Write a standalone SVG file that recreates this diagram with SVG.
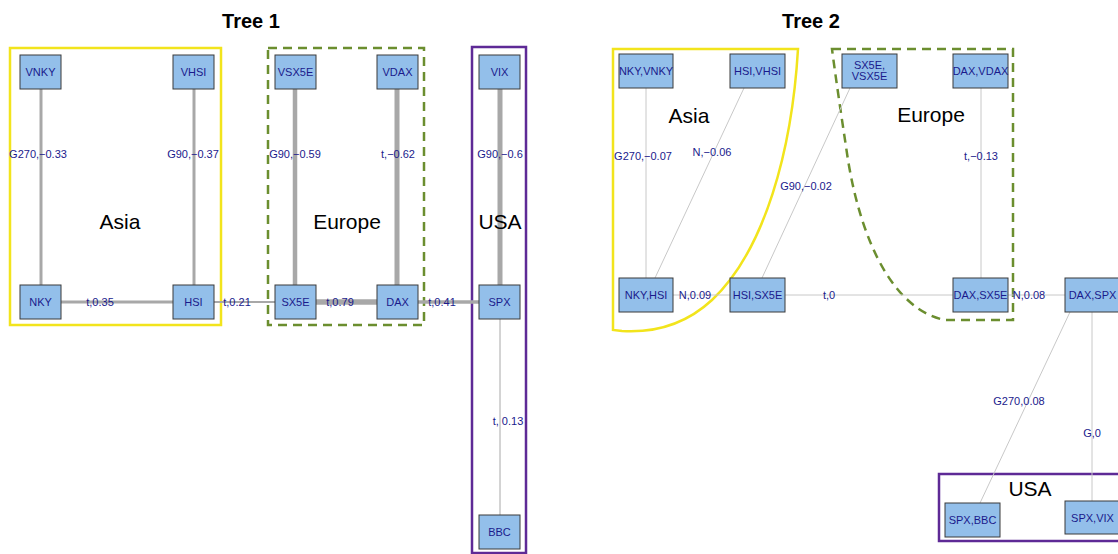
<svg xmlns="http://www.w3.org/2000/svg" width="1118" height="554" viewBox="0 0 1118 554">
<style>
.node rect{fill:#93bfea;stroke:#3a3a3a;stroke-width:1}
.node text{font-family:"Liberation Sans",Arial,sans-serif;font-size:11px;fill:#1a1a8c;text-anchor:middle}
.el{font-family:"Liberation Sans",Arial,sans-serif;font-size:11px;fill:#1a1a8c;text-anchor:middle}
.grp{font-family:"Liberation Sans",Arial,sans-serif;font-size:21px;fill:#000;text-anchor:middle}
.title{font-family:"Liberation Sans",Arial,sans-serif;font-size:20px;font-weight:bold;fill:#000;text-anchor:middle}
.e1{stroke:#a8a8a8;fill:none}
.e2{stroke:#c8c8c8;stroke-width:1;fill:none}
.asia{fill:none;stroke:#f2e41c;stroke-width:2.5}
.europe{fill:none;stroke:#6b8e2f;stroke-width:2.5;stroke-dasharray:9,6}
.usa{fill:none;stroke:#5e2a96;stroke-width:2.5}
</style>
<rect width="1118" height="554" fill="#fff"/>
<text class="title" x="251" y="28">Tree 1</text>
<text class="title" x="811" y="28">Tree 2</text>

<g id="clusters">
<rect class="asia" x="10" y="48" width="211" height="277"/>
<rect class="europe" x="268" y="48" width="156" height="277"/>
<rect class="usa" x="472" y="47" width="54" height="506"/>
<path class="asia" d="M613,49 H798 C792,150 765,250 712,300 C685,325 655,333 622,331 L613,330 Z"/>
<path class="europe" d="M832,49 H1013 V320 H945 C895,310 862,245 848,160 C842,120 836,80 832,49 Z"/>
<rect class="usa" x="939" y="474" width="190" height="67"/>
</g>

<g id="connectors">
<line class="e1" x1="41" y1="89" x2="41" y2="285" stroke-width="3"/>
<line class="e1" x1="194" y1="89" x2="194" y2="285" stroke-width="3"/>
<line class="e1" x1="61" y1="302" x2="173" y2="302" stroke-width="3"/>
<line class="e1" x1="214" y1="302" x2="275" y2="302" stroke-width="2"/>
<line class="e1" x1="295" y1="89" x2="295" y2="285" stroke-width="4.5"/>
<line class="e1" x1="397" y1="89" x2="397" y2="285" stroke-width="5"/>
<line class="e1" x1="316" y1="302" x2="377" y2="302" stroke-width="5.5"/>
<line class="e1" x1="418" y1="302" x2="479" y2="302" stroke-width="3.5"/>
<line class="e1" x1="500" y1="89" x2="500" y2="285" stroke-width="5"/>
<line class="e1" x1="500" y1="319" x2="500" y2="515" stroke-width="1"/>

<line class="e2" x1="646" y1="88" x2="646" y2="278"/>
<line class="e2" x1="744" y1="88" x2="655" y2="278"/>
<line class="e2" x1="673" y1="295" x2="730" y2="295"/>
<line class="e2" x1="762" y1="278" x2="850" y2="88"/>
<line class="e2" x1="785" y1="295" x2="953" y2="295"/>
<line class="e2" x1="981" y1="88" x2="981" y2="278"/>
<line class="e2" x1="1008" y1="295" x2="1065" y2="295"/>
<line class="e2" x1="1070" y1="312" x2="980" y2="503"/>
<line class="e2" x1="1092" y1="312" x2="1092" y2="501"/>
</g>

<g id="edge-labels">
<text class="el" x="38" y="158">G270,−0.33</text>
<text class="el" x="193" y="158">G90,−0.37</text>
<text class="el" x="100" y="306">t,0.35</text>
<text class="el" x="237" y="306">t,0.21</text>
<text class="el" x="295" y="158">G90,−0.59</text>
<text class="el" x="398" y="158">t,−0.62</text>
<text class="el" x="340" y="306">t,0.79</text>
<text class="el" x="442" y="306">t,0.41</text>
<text class="el" x="500" y="158">G90,−0.6</text>
<text class="el" x="508" y="425">t, 0.13</text>
<text class="el" x="643" y="160">G270,−0.07</text>
<text class="el" x="712" y="156">N,−0.06</text>
<text class="el" x="695" y="299">N,0.09</text>
<text class="el" x="806" y="190">G90,−0.02</text>
<text class="el" x="829" y="299">t,0</text>
<text class="el" x="981" y="160">t,−0.13</text>
<text class="el" x="1029" y="299">N,0.08</text>
<text class="el" x="1019" y="405">G270,0.08</text>
<text class="el" x="1092" y="437">G,0</text>
</g>

<g id="group-labels">
<text class="grp" x="120" y="229">Asia</text>
<text class="grp" x="347" y="229">Europe</text>
<text class="grp" x="500" y="229">USA</text>
<text class="grp" x="689" y="123">Asia</text>
<text class="grp" x="931" y="122">Europe</text>
<text class="grp" x="1030" y="496">USA</text>
</g>

<g id="VNKY" class="node"><rect x="20" y="55" width="41" height="34"/><text x="40.5" y="76">VNKY</text></g>
<g id="VHSI" class="node"><rect x="173" y="55" width="41" height="34"/><text x="193.5" y="76">VHSI</text></g>
<g id="NKY" class="node"><rect x="20" y="285" width="41" height="34"/><text x="40.5" y="306">NKY</text></g>
<g id="HSI" class="node"><rect x="173" y="285" width="41" height="34"/><text x="193.5" y="306">HSI</text></g>
<g id="VSX5E" class="node"><rect x="275" y="55" width="41" height="34"/><text x="295.5" y="76">VSX5E</text></g>
<g id="VDAX" class="node"><rect x="377" y="55" width="41" height="34"/><text x="397.5" y="76">VDAX</text></g>
<g id="SX5E" class="node"><rect x="275" y="285" width="41" height="34"/><text x="295.5" y="306">SX5E</text></g>
<g id="DAX" class="node"><rect x="377" y="285" width="41" height="34"/><text x="397.5" y="306">DAX</text></g>
<g id="VIX" class="node"><rect x="479" y="55" width="41" height="34"/><text x="499.5" y="76">VIX</text></g>
<g id="SPX" class="node"><rect x="479" y="285" width="41" height="34"/><text x="499.5" y="306">SPX</text></g>
<g id="BBC" class="node"><rect x="479" y="515" width="41" height="34"/><text x="499.5" y="536">BBC</text></g>

<g id="NKY_VNKY" class="node"><rect x="619" y="54" width="54" height="34"/><text x="646" y="75">NKY,VNKY</text></g>
<g id="HSI_VHSI" class="node"><rect x="730" y="54" width="55" height="34"/><text x="757.5" y="75">HSI,VHSI</text></g>
<g id="NKY_HSI" class="node"><rect x="619" y="278" width="54" height="34"/><text x="646" y="299">NKY,HSI</text></g>
<g id="HSI_SX5E" class="node"><rect x="730" y="278" width="55" height="34"/><text x="757.5" y="299">HSI,SX5E</text></g>
<g id="SX5E_VSX5E" class="node"><rect x="842" y="54" width="55" height="34"/><text x="869.5" y="69">SX5E,</text><text x="869.5" y="80">VSX5E</text></g>
<g id="DAX_VDAX" class="node"><rect x="953" y="54" width="55" height="34"/><text x="980.5" y="75">DAX,VDAX</text></g>
<g id="DAX_SX5E" class="node"><rect x="953" y="278" width="55" height="34"/><text x="980.5" y="299">DAX,SX5E</text></g>
<g id="DAX_SPX" class="node"><rect x="1065" y="278" width="55" height="34"/><text x="1092.5" y="299">DAX,SPX</text></g>
<g id="SPX_BBC" class="node"><rect x="945" y="503" width="55" height="34"/><text x="972.5" y="524">SPX,BBC</text></g>
<g id="SPX_VIX" class="node"><rect x="1065" y="501" width="55" height="33"/><text x="1092.5" y="522">SPX,VIX</text></g>
</svg>
